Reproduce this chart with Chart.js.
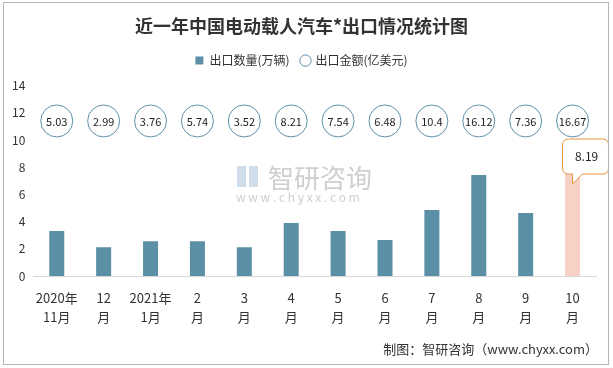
<!DOCTYPE html>
<html>
<head>
<meta charset="utf-8">
<script src="https://cdn.jsdelivr.net/npm/chart.js@4/dist/chart.umd.min.js"></script>
<style>
  body { margin: 0; background: #fff; }
  #wrap { position: relative; width: 613px; height: 368px; }
  #frame { position: absolute; left: 3px; top: 2px; width: 604px; height: 361px; border: 1px solid #b4b4b4; pointer-events: none; }
</style>
</head>
<body>
<div id="wrap">
  <canvas id="grafica" width="613" height="368"></canvas>
  <div id="frame"></div>
</div>
<script>
const meses = [["2020年", "11月"], ["12", "月"], ["2021年", "1月"], ["2", "月"], ["3", "月"], ["4", "月"],
    ["5", "月"], ["6", "月"], ["7", "月"], ["8", "月"], ["9", "月"], ["10", "月"]]
const cantidad = [3.3, 2.12, 2.56, 2.56, 2.12, 3.89, 3.3, 2.64, 4.85, 7.43, 4.63, 8.19]
const monto = [5.03, 2.99, 3.76, 5.74, 3.52, 8.21, 7.54, 6.48, 10.4, 16.12, 7.36, 16.67]
const nivelCirculos = 11.4
const ticksY = [0, 2, 4, 6, 8, 10, 12, 14]

const fuente = "'Microsoft YaHei', 'Noto Sans CJK SC', sans-serif"
const colorBarra = "#5b8fa6"
const colorUltima = "#f7d0c6"

const coloresBarras = cantidad.map((v, i) => i === cantidad.length - 1 ? colorUltima : colorBarra)

const espacioLeyenda = {
    id: "espacioLeyenda",
    beforeInit(chart) {
        const fit = chart.legend.fit
        chart.legend.fit = function () {
            fit.bind(chart.legend)()
            this.height += 9
        }
    }
}

const extras = {
    id: "extras",
    afterDatasetsDraw(chart) {
        const ctx = chart.ctx
        // textos dentro de los circulos
        const meta = chart.getDatasetMeta(1)
        ctx.save()
        ctx.fillStyle = "#222"
        ctx.font = "11px " + fuente
        ctx.textAlign = "center"
        ctx.textBaseline = "middle"
        meta.data.forEach((p, i) => {
            ctx.fillText(String(monto[i]), p.x, p.y + 1)
        })

        // globo del ultimo mes
        const barras = chart.getDatasetMeta(0).data
        const ult = barras[barras.length - 1]
        const x0 = ult.x - 10, y0 = 139, w = 46, h = 35, r = 6
        ctx.beginPath()
        ctx.moveTo(x0 + r, y0)
        ctx.lineTo(x0 + w - r, y0)
        ctx.quadraticCurveTo(x0 + w, y0, x0 + w, y0 + r)
        ctx.lineTo(x0 + w, y0 + h - r)
        ctx.quadraticCurveTo(x0 + w, y0 + h, x0 + w - r, y0 + h)
        ctx.lineTo(x0 + 20, y0 + h)
        ctx.lineTo(x0 + 10, y0 + h + 10)
        ctx.lineTo(x0 + 10, y0 + h)
        ctx.lineTo(x0 + r, y0 + h)
        ctx.quadraticCurveTo(x0, y0 + h, x0, y0 + h - r)
        ctx.lineTo(x0, y0 + r)
        ctx.quadraticCurveTo(x0, y0, x0 + r, y0)
        ctx.closePath()
        ctx.fillStyle = "#fff"
        ctx.fill()
        ctx.strokeStyle = "#e8943a"
        ctx.lineWidth = 1
        ctx.stroke()
        ctx.fillStyle = "#222"
        ctx.font = "12px " + fuente
        ctx.fillText(String(cantidad[cantidad.length - 1]), x0 + w / 2 + 1, y0 + 17)

        // pie de grafico
        ctx.textAlign = "right"
        ctx.font = "13px " + fuente
        ctx.fillStyle = "#333"
        ctx.fillText("制图：智研咨询（www.chyxx.com）", 598, 349)
        ctx.restore()
    },
    beforeDatasetsDraw(chart) {
        // marca de agua
        const ctx = chart.ctx
        ctx.save()
        ctx.fillStyle = "rgba(160,160,160,0.5)"
        ctx.font = "26px " + fuente
        ctx.textBaseline = "middle"
        ctx.fillText("智研咨询", 268, 178)
        ctx.font = "12px " + fuente
        ctx.fillText("w w w . c h y x x . c o m", 236, 197)
        ctx.fillStyle = "rgba(120,160,200,0.35)"
        ctx.fillRect(237, 166, 9, 21)
        ctx.fillRect(249, 166, 9, 21)
        ctx.restore()
    }
}

new Chart(document.querySelector("#grafica"), {
    type: "bar",
    data: {
        labels: meses,
        datasets: [{
            label: "出口数量(万辆)",
            data: cantidad,
            backgroundColor: coloresBarras,
            barPercentage: 0.64,
            categoryPercentage: 0.5,
            pointStyle: "rect",
            order: 2
        }, {
            label: "出口金额(亿美元)",
            type: "line",
            data: monto.map(() => nivelCirculos),
            showLine: false,
            pointRadius: 16,
            pointHoverRadius: 16,
            pointBackgroundColor: "#fff",
            pointBorderColor: "#5f8faa",
            pointBorderWidth: 1,
            backgroundColor: "#fff",
            borderColor: "#8aa9bb",
            pointStyle: "circle",
            order: 1
        }]
    },
    options: {
        responsive: false,
        animation: false,
        layout: { padding: { left: 4, right: 14, top: 8, bottom: 37 } },
        plugins: {
            title: {
                display: true,
                text: "近一年中国电动载人汽车*出口情况统计图",
                color: "#333",
                font: { family: fuente, size: 18, weight: "bold" },
                padding: { top: 7, bottom: 6 }
            },
            legend: {
                display: true,
                labels: {
                    usePointStyle: true,
                    boxWidth: 8,
                    boxHeight: 8,
                    padding: 12,
                    color: "#333",
                    font: { family: fuente, size: 12 },
                    sort: (a, b) => a.datasetIndex - b.datasetIndex
                }
            },
            tooltip: { enabled: false }
        },
        scales: {
            x: {
                grid: { display: false },
                border: { color: "#d9d9d9" },
                ticks: { color: "#333", font: { family: fuente, size: 13, lineHeight: 1.5 }, maxRotation: 0, padding: 4 }
            },
            y: {
                min: 0,
                max: 14,
                afterBuildTicks: axis => { axis.ticks = ticksY.map(v => ({ value: v })) },
                grid: { display: false, drawTicks: false },
                border: { display: false },
                ticks: { color: "#333", font: { family: fuente, size: 12 }, padding: 8 }
            }
        }
    },
    plugins: [espacioLeyenda, extras]
})
</script>
</body>
</html>
